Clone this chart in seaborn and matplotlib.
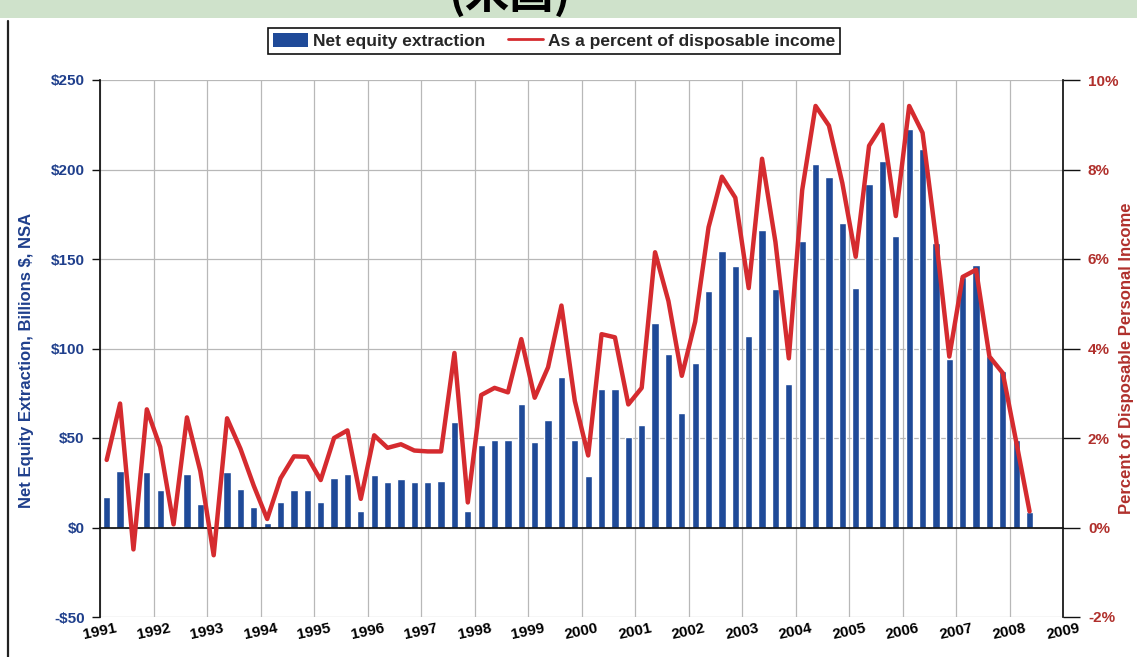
import numpy as np
import pandas as pd
import matplotlib
matplotlib.use("Agg")
import matplotlib.pyplot as plt
import seaborn as sns
from matplotlib.patches import Rectangle, Patch
from matplotlib.lines import Line2D

# Quarterly mortgage equity withdrawal, 1991Q1 - 2008Q2
years = list(range(1991, 2010))
quarters = [f"{y}Q{q}" for y in range(1991, 2009) for q in (1, 2, 3, 4)][:70]

extraction = [
    17, 31.5, 0, 31, 21, 0, 30, 13, 0, 31, 21.5, 11.5,
    2.7, 14.5, 21, 21, 14.5, 27.5, 30, 9, 29.5, 25.5, 27, 25.5,
    25.5, 26, 59, 9.3, 46, 49, 48.7, 69, 47.7, 60, 84, 49,
    29, 77.4, 77.4, 50.6, 57, 114, 97, 64, 92, 132, 154.5, 146,
    107, 166, 133, 80, 160, 203, 196, 170, 134, 192, 205, 163,
    222.5, 211.5, 159, 94, 140, 146.6, 95.6, 87.3, 48.7, 8.9,
]

pct_income = [
    1.51, 2.77, -0.49, 2.64, 1.80, 0.07, 2.46, 1.26, -0.62, 2.44, 1.76, 0.93,
    0.19, 1.10, 1.59, 1.58, 1.06, 2.00, 2.17, 0.64, 2.06, 1.78, 1.86, 1.72,
    1.70, 1.70, 3.90, 0.56, 2.96, 3.12, 3.02, 4.21, 2.90, 3.58, 4.96, 2.83,
    1.61, 4.32, 4.25, 2.75, 3.12, 6.15, 5.06, 3.39, 4.60, 6.71, 7.84, 7.37,
    5.35, 8.24, 6.38, 3.78, 7.54, 9.42, 8.98, 7.70, 6.05, 8.53, 9.00, 6.96,
    9.42, 8.82, 6.47, 3.82, 5.60, 5.76, 3.82, 3.45, 1.92, 0.36,
]

left_ticks = [-50, 0, 50, 100, 150, 200, 250]
left_labels = ["-$50", "$0", "$50", "$100", "$150", "$200", "$250"]
right_ticks = [-2, 0, 2, 4, 6, 8, 10]
right_labels = ["-2%", "0%", "2%", "4%", "6%", "8%", "10%"]

BAR = "#1f4a98"
RED = "#d52b2f"
NAVY = "#1f3f8c"
BROWN = "#b0302c"
GRID = "#b8b8b8"

sns.set_theme(style="white")
plt.rcParams["font.family"] = ["Liberation Sans", "DejaVu Sans"]

df = pd.DataFrame({"quarter": quarters, "extraction": extraction,
                   "pct": pct_income, "pos": np.arange(len(quarters))})

W, H = 1137, 657
fig = plt.figure(figsize=(W / 100, H / 100), dpi=100)
fig.patch.set_facecolor("white")

# slide header band
fig.add_artist(Rectangle((0, 1 - 18 / H), 1, 18 / H, transform=fig.transFigure,
                         facecolor="#cfe2cb", edgecolor="none", zorder=0))
fig.text(510 / W, 1 - 8 / H, "(米国)", ha="center", va="baseline",
         fontsize=32, fontweight="bold", color="black",
         family=["Noto Sans CJK JP", "DejaVu Sans"])
fig.add_artist(Line2D([8 / W, 8 / W], [0, 1 - 21 / H], transform=fig.transFigure,
                      color="#222222", lw=1.6))

ax = fig.add_axes([100 / W, 1 - 617 / H, 963 / W, 537 / H])
ax2 = ax.twinx()

sns.barplot(data=df, x="quarter", y="extraction", order=quarters, color=BAR,
            saturation=1, width=0.55, ax=ax, zorder=2)
sns.lineplot(data=df, x="pos", y="pct", ax=ax2, color=RED, lw=3.2, zorder=3)

bounds = np.arange(len(years)) * 4 - 0.5
ax.set_xlim(-0.5, 71.5)
ax.set_ylim(-50, 250)
ax2.set_ylim(-2, 10)

ax.set_xticks(bounds)
ax.set_xticklabels([])
ax.set_yticks(left_ticks)
ax.set_yticklabels(left_labels, color=NAVY, fontweight="bold", fontsize=11)
ax.grid(True, color=GRID, lw=0.9, zorder=0)
ax.set_axisbelow(True)

ax.spines["bottom"].set_position(("data", 0))
for s in ("top", "right"):
    ax.spines[s].set_visible(False)
ax.spines["left"].set_color("#111111")
ax.spines["bottom"].set_color("#111111")
ax.tick_params(axis="x", direction="out", length=5, width=1, color="#111111")
ax.tick_params(axis="y", direction="out", length=6, width=1, color="#111111",
               left=True, pad=5)

ax2.set_yticks(right_ticks)
ax2.set_yticklabels(right_labels, color=BROWN, fontweight="bold", fontsize=11)
ax2.tick_params(axis="y", direction="out", length=12, width=1, color="#111111",
                right=True, pad=6)
for s in ("top", "bottom", "left"):
    ax2.spines[s].set_visible(False)
ax2.spines["right"].set_color("#111111")
ax2.grid(False)
ax2.set_xlabel("")
ax2.set_ylabel("")

sec = ax.secondary_xaxis(0)
sec.set_xticks(bounds)
sec.set_xticklabels([str(y) for y in years], rotation=12, fontweight="bold",
                    fontsize=11, color="black")
sec.tick_params(length=0, pad=3)
sec.spines["bottom"].set_visible(False)

ax.set_xlabel("")
ax.set_ylabel("")
fig.text(27 / W, 1 - 360 / H, "Net Equity Extraction, Billions $, NSA",
         rotation=90, ha="center", va="center", color=NAVY, fontsize=12,
         fontweight="bold")
fig.text(1126 / W, 1 - 358 / H, "Percent of Disposable Personal Income",
         rotation=90, ha="center", va="center", color=BROWN, fontsize=12,
         fontweight="bold")

handles = [Patch(facecolor=BAR, edgecolor="none"),
           Line2D([], [], color=RED, lw=2)]
leg = fig.legend(handles, ["Net equity extraction", "As a percent of disposable income"],
                 loc="center", bbox_to_anchor=(554 / W, 1 - 41 / H), ncol=2,
                 frameon=True, fancybox=False, framealpha=1, edgecolor="#111111",
                 prop={"weight": "bold", "size": 12.5}, handlelength=2.0,
                 handleheight=0.9, handletextpad=0.3, columnspacing=1.3,
                 borderpad=0.3)
leg.get_frame().set_linewidth(1.2)

fig.savefig("out.png", dpi=100)
